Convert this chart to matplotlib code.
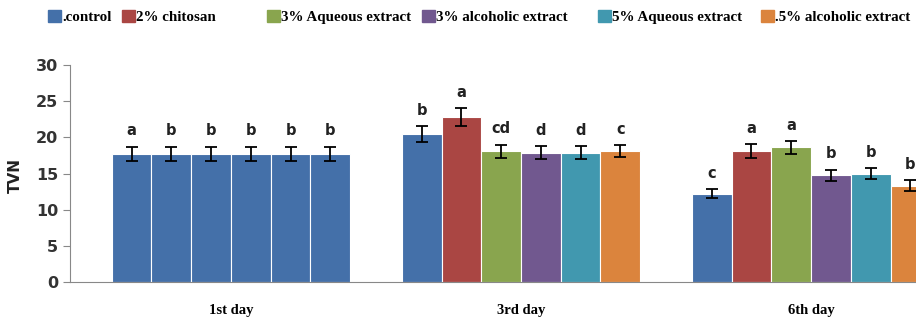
import matplotlib.pyplot as plt
from matplotlib.patches import Patch
import numpy as np

days = ["1st day", "3rd day", "6th day"]
series = [".control", "2% chitosan", "3% Aqueous extract", "3% alcoholic extract",
          "5% Aqueous extract", ".5% alcoholic extract"]
colors = ["#4470A9", "#AA4643", "#89A54E", "#71588F", "#4198AF", "#DB843D"]

# TVN values per series, one value per day
values = [
    [17.7, 20.4, 12.2],
    [17.7, 22.8, 18.1],
    [17.7, 18.1, 18.6],
    [17.7, 17.9, 14.75],
    [17.7, 17.9, 15.0],
    [17.7, 18.1, 13.3],
]
errors = [
    [1.0, 1.1, 0.65],
    [1.0, 1.2, 1.0],
    [1.0, 0.9, 0.9],
    [1.0, 0.9, 0.8],
    [1.0, 0.9, 0.75],
    [1.0, 0.8, 0.75],
]
letters = [
    ["a", "b", "c"],
    ["b", "a", "a"],
    ["b", "cd", "a"],
    ["b", "d", "b"],
    ["b", "d", "b"],
    ["b", "c", "b"],
]

fig = plt.figure(figsize=(9.16, 3.18), dpi=100)
ax = fig.add_axes([70 / 916, 36 / 318, 902 / 916, 217 / 318])

x = np.arange(len(days))
w = 0.137
for i, (vals, errs, labs) in enumerate(zip(values, errors, letters)):
    pos = x + (i - 2.5) * w
    # the first day is drawn in the control colour for every treatment
    cols = [colors[0]] + [colors[i]] * (len(days) - 1)
    ax.bar(pos, vals, width=w, color=cols, edgecolor="white", linewidth=0.8, zorder=2)
    ax.errorbar(pos, vals, yerr=errs, fmt="none", ecolor="black", elinewidth=1.3,
                capsize=4.5, capthick=1.3, zorder=3)
    for p, v, e, t in zip(pos, vals, errs, labs):
        ax.annotate(t, (p, v + e), xytext=(0, 6), textcoords="offset points",
                    ha="center", va="bottom", fontsize=10.5, fontweight="bold",
                    color="#222222")

ax.set_xlim(-0.555, 2.555)
ax.set_ylim(0, 30)
ax.set_yticks(range(0, 31, 5))
ax.set_xticks(x)
ax.set_xticklabels(days, family="Liberation Serif", fontweight="bold", fontsize=10.5)
ax.tick_params(axis="x", length=0, pad=16)
ax.tick_params(axis="y", length=5, color="#888888", labelsize=11.5, labelcolor="#333333")
for lab in ax.get_yticklabels():
    lab.set_fontweight("bold")
ax.set_ylabel("TVN", fontsize=11, fontweight="bold", color="#222222")
ax.yaxis.set_label_coords(-0.052, 0.49)
for s in ["top", "right"]:
    ax.spines[s].set_visible(False)
ax.spines["left"].set_color("#888888")
ax.spines["bottom"].set_color("#888888")

# legend entries placed individually along the top
leg_x = [48, 122, 267, 422, 598, 761]
for lx, name, c in zip(leg_x, series, colors):
    fig.legend([Patch(color=c)], [name], loc="center left",
               bbox_to_anchor=(lx / 916, 1 - 17 / 318), frameon=False,
               handlelength=0.85, handleheight=0.85, handletextpad=0.1,
               borderpad=0, borderaxespad=0,
               prop={"family": "Liberation Serif", "weight": "bold", "size": 10.8})

fig.savefig("out.png", dpi=100)
